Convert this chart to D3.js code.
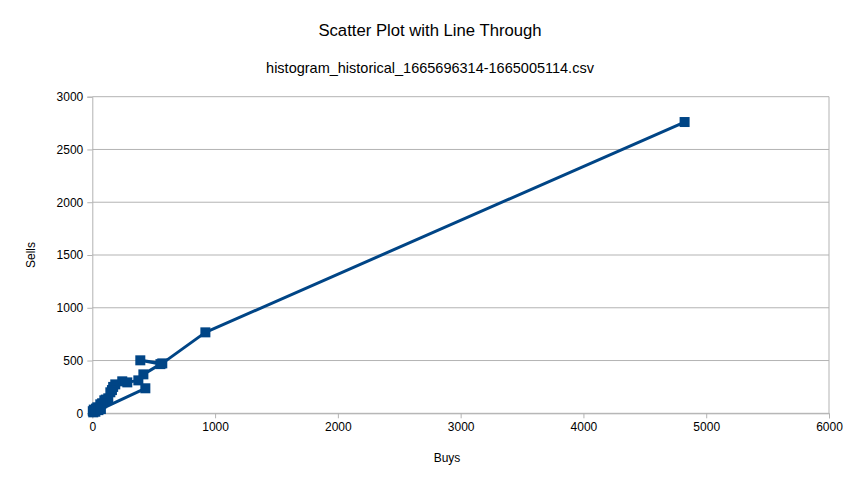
<!DOCTYPE html>
<html><head><meta charset="utf-8">
<script src="https://cdn.jsdelivr.net/npm/d3@7"></script>
<style>body{margin:0;background:#fff}svg{display:block}text{font-family:"Liberation Sans",Arial,sans-serif;fill:#000}</style>
</head><body>
<script>
const title = "Scatter Plot with Line Through";
const subtitle = "histogram_historical_1665696314-1665005114.csv";
const buys  = [4824, 921, 570, 391, 555, 416, 375, 285, 244, 187, 170, 160, 147, 130, 110, 98, 80, 65, 41, 30, 16, 8, 4, 12, 25, 50, 70, 432];
const sells = [2760, 767, 473, 502, 466, 369, 312, 293, 303, 274, 250, 220, 199, 142, 130, 123, 95, 85, 57, 45, 28, 9, 20, 35, 15, 30, 40, 237];
const xTicks = [0, 1000, 2000, 3000, 4000, 5000, 6000];
const yTicks = [0, 500, 1000, 1500, 2000, 2500, 3000];

const W = 861, H = 485;
const svg = d3.select("body").append("svg").attr("width", W).attr("height", H);
const x = d3.scaleLinear().domain([0, 6000]).range([92.3, 829]);
const y = d3.scaleLinear().domain([0, 3000]).range([413.3, 96.7]);

svg.append("text").attr("x", 430).attr("y", 36).attr("text-anchor", "middle").style("font-size", "16.7px").text(title);
svg.append("text").attr("x", 430).attr("y", 73).attr("text-anchor", "middle").style("font-size", "14.5px").text(subtitle);

svg.append("g").selectAll("line").data(yTicks).join("line")
  .attr("x1", x(0)).attr("x2", x(6000)).attr("y1", d => y(d)).attr("y2", d => y(d))
  .attr("stroke", "#b3b3b3").attr("stroke-width", 1);
svg.append("line").attr("x1", x(6000)).attr("x2", x(6000)).attr("y1", y(0)).attr("y2", y(3000)).attr("stroke", "#b3b3b3");

const xa = svg.append("g").attr("transform", `translate(0,${y(0)})`)
  .call(d3.axisBottom(x).tickValues(xTicks).tickSize(5).tickPadding(4).tickFormat(d3.format("d")));
const ya = svg.append("g").attr("transform", `translate(${x(0)},0)`)
  .call(d3.axisLeft(y).tickValues(yTicks).tickSize(5).tickPadding(4).tickFormat(d3.format("d")));
[xa, ya].forEach(a => {
  a.select(".domain").attr("stroke", "#b3b3b3");
  a.selectAll(".tick line").attr("stroke", "#b3b3b3");
  a.selectAll(".tick text").style("font-size", "12px").attr("fill", "#000").style("font-family", '"Liberation Sans",Arial,sans-serif');
});

svg.append("text").attr("x", 447).attr("y", 462).attr("text-anchor", "middle").style("font-size", "12px").text("Buys");
svg.append("text").attr("transform", "translate(35,255) rotate(-90)").attr("text-anchor", "middle").style("font-size", "12px").text("Sells");

const data = buys.map((b, i) => [b, sells[i]]);
svg.append("path").datum(data)
  .attr("d", d3.line().x(d => x(d[0])).y(d => y(d[1])))
  .attr("fill", "none").attr("stroke", "#004586").attr("stroke-width", 3).attr("stroke-linejoin", "round");
svg.append("g").selectAll("rect").data(data).join("rect")
  .attr("x", d => x(d[0]) - 5).attr("y", d => y(d[1]) - 5).attr("width", 10).attr("height", 10)
  .attr("fill", "#004586");
</script>
</body></html>
